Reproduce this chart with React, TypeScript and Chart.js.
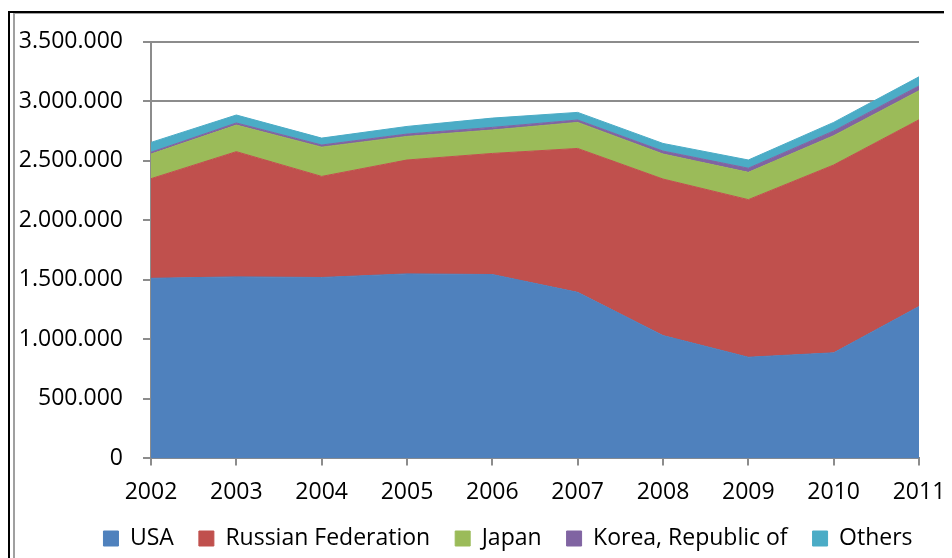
import React, { useEffect, useRef } from "react";
import { Chart, registerables } from "chart.js";

Chart.register(...registerables);

const years = ["2002", "2003", "2004", "2005", "2006", "2007", "2008", "2009", "2010", "2011"];
const usa = [1513000, 1525000, 1520000, 1550000, 1545000, 1395000, 1032000, 850000, 887000, 1276000];
const russia = [837000, 1052000, 849000, 957000, 1017000, 1209000, 1315000, 1324000, 1578000, 1569000];
const japan = [207000, 223000, 246000, 198000, 197000, 219000, 210000, 229000, 246000, 244000];
const korea = [15000, 18000, 18000, 20000, 22000, 20000, 25000, 35000, 40000, 40000];
const others = [83000, 67000, 58000, 64000, 78000, 64000, 64000, 69000, 72000, 77000];
const seriesNames = ["USA", "Russian Federation", "Japan", "Korea, Republic of", "Others"];
const seriesColors = ["#4F81BD", "#C0504D", "#9BBB59", "#8064A2", "#4BACC6"];
const yMax = 3500000;
const yStep = 500000;

const fmt = (v: number) => String(Math.round(v)).replace(/\B(?=(\d{3})+(?!\d))/g, ".");

const legendPlacer = {
  id: "legendPlacer",
  afterLayout(chart: any) {
    const l = chart.legend;
    if (!l) return;
    const dx = 500 - (l.left + l.right) / 2;
    const dy = -17;
    l.left += dx;
    l.right += dx;
    l.top += dy;
    l.bottom += dy;
  },
};

export default function App() {
  const ref = useRef<HTMLCanvasElement | null>(null);
  useEffect(() => {
    if (!ref.current) return;
    const values = [usa, russia, japan, korea, others];
    const font = { family: "'Open Sans', sans-serif", size: 23 };
    const chart = new Chart(ref.current, {
      type: "line",
      data: {
        labels: years,
        datasets: values.map((d, i) => ({
          label: seriesNames[i],
          data: d,
          backgroundColor: seriesColors[i],
          borderColor: seriesColors[i],
          borderWidth: 1,
          pointRadius: 0,
          tension: 0,
          fill: i === 0 ? "origin" : "-1",
        })),
      },
      plugins: [legendPlacer],
      options: {
        animation: false,
        responsive: false,
        layout: { padding: { left: 5, right: 49, top: 33, bottom: 11 } },
        plugins: {
          tooltip: { enabled: false },
          legend: {
            position: "bottom",
            labels: {
              font,
              color: "#000",
              boxWidth: 15,
              boxHeight: 15,
              padding: 25,
            },
          },
        },
        scales: {
          x: {
            grid: {
              drawOnChartArea: false,
              drawTicks: true,
              tickLength: 7,
              color: "#8c8c8c",
              lineWidth: 2,
            },
            border: { display: true, color: "#8c8c8c", width: 2 },
            ticks: { font, color: "#000", padding: 13, maxRotation: 0, autoSkip: false },
          },
          y: {
            stacked: true,
            min: 0,
            max: yMax,
            afterFit: (s: any) => {
              s.width = 138;
            },
            grid: { color: "#8c8c8c", tickLength: 8, lineWidth: 2 },
            border: { display: true, color: "#8c8c8c", width: 2 },
            ticks: {
              stepSize: yStep,
              font,
              color: "#000",
              padding: 20,
              callback: (v: any) => fmt(Number(v)),
            },
          },
        },
      },
    });
    return () => chart.destroy();
  }, []);

  return (
    <div style={{ position: "relative", width: 944, height: 550, overflow: "hidden" }}>
      <div
        style={{
          position: "absolute",
          left: 0,
          top: 3,
          width: 960,
          height: 600,
          borderLeft: "2px solid #000",
          borderTop: "2px solid #000",
          pointerEvents: "none",
        }}
      />
      <div
        style={{
          position: "absolute",
          left: 5,
          top: 5,
          width: 960,
          height: 600,
          borderLeft: "2px solid #a0a0a0",
          borderTop: "1px solid #a0a0a0",
          pointerEvents: "none",
        }}
      />
      <canvas ref={ref} width={960} height={580} style={{ position: "absolute", left: 0, top: 0 }} />
    </div>
  );
}
